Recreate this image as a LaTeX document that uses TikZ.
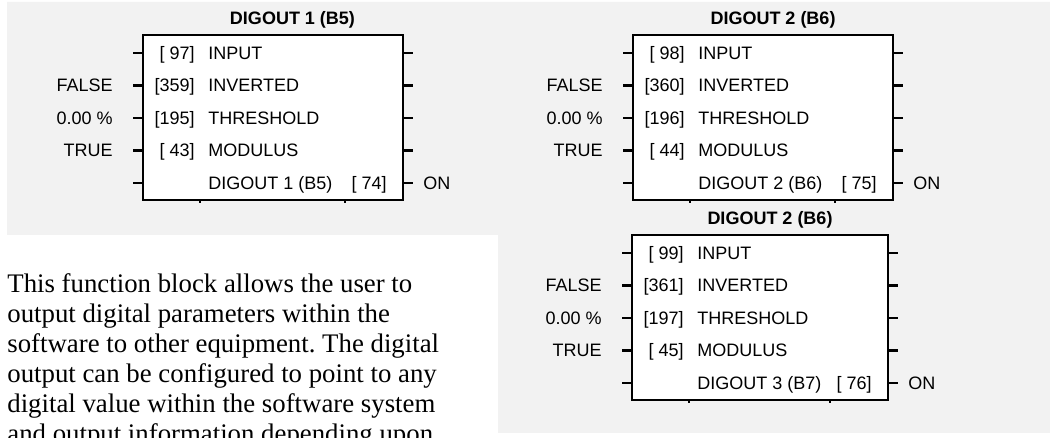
\documentclass[tikz,border=0pt]{standalone}
\usepackage{fontspec}
\setmainfont{Liberation Sans}
\newfontfamily\bodyserif{Liberation Serif}
\usetikzlibrary{positioning,calc}
\definecolor{panelgray}{HTML}{F2F2F2}
\definecolor{ink}{HTML}{000000}
\tikzset{
  panel/.style={fill=panelgray,draw=none},
  fblock/.style={draw=ink,line width=1pt,fill=white,anchor=north west,
    inner sep=0pt,outer sep=0pt,minimum height=82.5pt},
  blocktitle/.style={font=\fontsize{9}{10}\selectfont\bfseries,text=ink,anchor=base,inner sep=0pt},
  pinlabel/.style={font=\fontsize{9}{10}\selectfont,text=ink,inner sep=0pt},
  stub/.style={draw=ink,line width=1.3pt},
  tick/.style={draw=ink,line width=.8pt},
  desc/.style={font=\bodyserif\fontsize{13.4}{15}\selectfont\frenchspacing,align=left,
    inner sep=0pt,anchor=north west,text=ink},
}
% block frame and title: name, left, top, width, title x, title
\newcommand{\digblock}[6]{%
  \node[fblock,minimum width={#4*0.5pt}] (#1) at (#2,#3) {};
  \node[blocktitle] (#1-title) at (#5,#3+10) {#6};
  \draw[tick] ($(#1.south west)+(57,0)$) -- ++(0,-3);
  \draw[tick] ($(#1.south east)+(-58,0)$) -- ++(0,-3);
}
% one parameter row: [default], block, row, number, parameter
\newcommand{\digrow}[5][]{%
  \coordinate (#2-in#3) at ($(#2.north west)+(0,{14.5-32.5*#3})$);
  \coordinate (#2-out#3) at (#2.east |- #2-in#3);
  \draw[stub] (#2-in#3) -- ++(-10,0) coordinate (#2-ipin#3);
  \draw[stub] (#2-out#3) -- ++(10,0) coordinate (#2-opin#3);
  \if\relax\detokenize{#1}\relax\else
    \node[pinlabel,anchor=base east] (#2-val#3) at ($(#2-in#3)+(-30,-6.5)$) {#1};
  \fi
  \node[pinlabel,anchor=base east] (#2-num#3) at ($(#2-in#3)+(52,-6.5)$) {#4};
  \node[pinlabel,anchor=base west] (#2-par#3) at ($(#2-in#3)+(65,-6.5)$) {#5};
}
% output row: block, output name, number
\newcommand{\digout}[3]{%
  \coordinate (#1-in5) at ($(#1.north west)+(0,-148)$);
  \coordinate (#1-out5) at (#1.east |- #1-in5);
  \draw[stub] (#1-in5) -- ++(-10,0) coordinate (#1-ipin5);
  \draw[stub] (#1-out5) -- ++(10,0) coordinate (#1-opin5);
  \node[pinlabel,anchor=base west] (#1-par5) at ($(#1-in5)+(65,-6.5)$) {#2};
  \node[pinlabel,anchor=base east] (#1-num5) at ($(#1-out5)+(-16,-6.5)$) {#3};
  \node[pinlabel,anchor=base west] (#1-on) at ($(#1-out5)+(20,-6.5)$) {ON};
}

\begin{document}
\begin{tikzpicture}[x=0.5pt,y=0.5pt]
\useasboundingbox (0,0) rectangle (1050,438);
\fill[panel] (7,436) -- (1050,436) -- (1050,5) -- (498,5) -- (498,203) -- (7,203) -- cycle;

\digblock{dig1}{143}{403}{260}{292.5}{DIGOUT 1 (B5)}
\digrow{dig1}{1}{[ 97]}{INPUT}
\digrow[FALSE]{dig1}{2}{[359]}{INVERTED}
\digrow[0.00 \%]{dig1}{3}{[195]}{THRESHOLD}
\digrow[TRUE]{dig1}{4}{[ 43]}{MODULUS}
\digout{dig1}{DIGOUT 1 (B5)}{[ 74]}

\digblock{dig2}{633}{403}{260}{773}{DIGOUT 2 (B6)}
\digrow{dig2}{1}{[ 98]}{INPUT}
\digrow[FALSE]{dig2}{2}{[360]}{INVERTED}
\digrow[0.00 \%]{dig2}{3}{[196]}{THRESHOLD}
\digrow[TRUE]{dig2}{4}{[ 44]}{MODULUS}
\digout{dig2}{DIGOUT 2 (B6)}{[ 75]}

\digblock{dig3}{632}{203}{256}{770}{DIGOUT 2 (B6)}
\digrow{dig3}{1}{[ 99]}{INPUT}
\digrow[FALSE]{dig3}{2}{[361]}{INVERTED}
\digrow[0.00 \%]{dig3}{3}{[197]}{THRESHOLD}
\digrow[TRUE]{dig3}{4}{[ 45]}{MODULUS}
\digout{dig3}{DIGOUT 3 (B7)}{[ 76]}

\node[desc] (about) at (7,164.3) {This function block allows the user to\\
output digital parameters within the\\
software to other equipment. The digital\\
output can be configured to point to any\\
digital value within the software system\\
and output information depending upon};
\end{tikzpicture}
\end{document}
